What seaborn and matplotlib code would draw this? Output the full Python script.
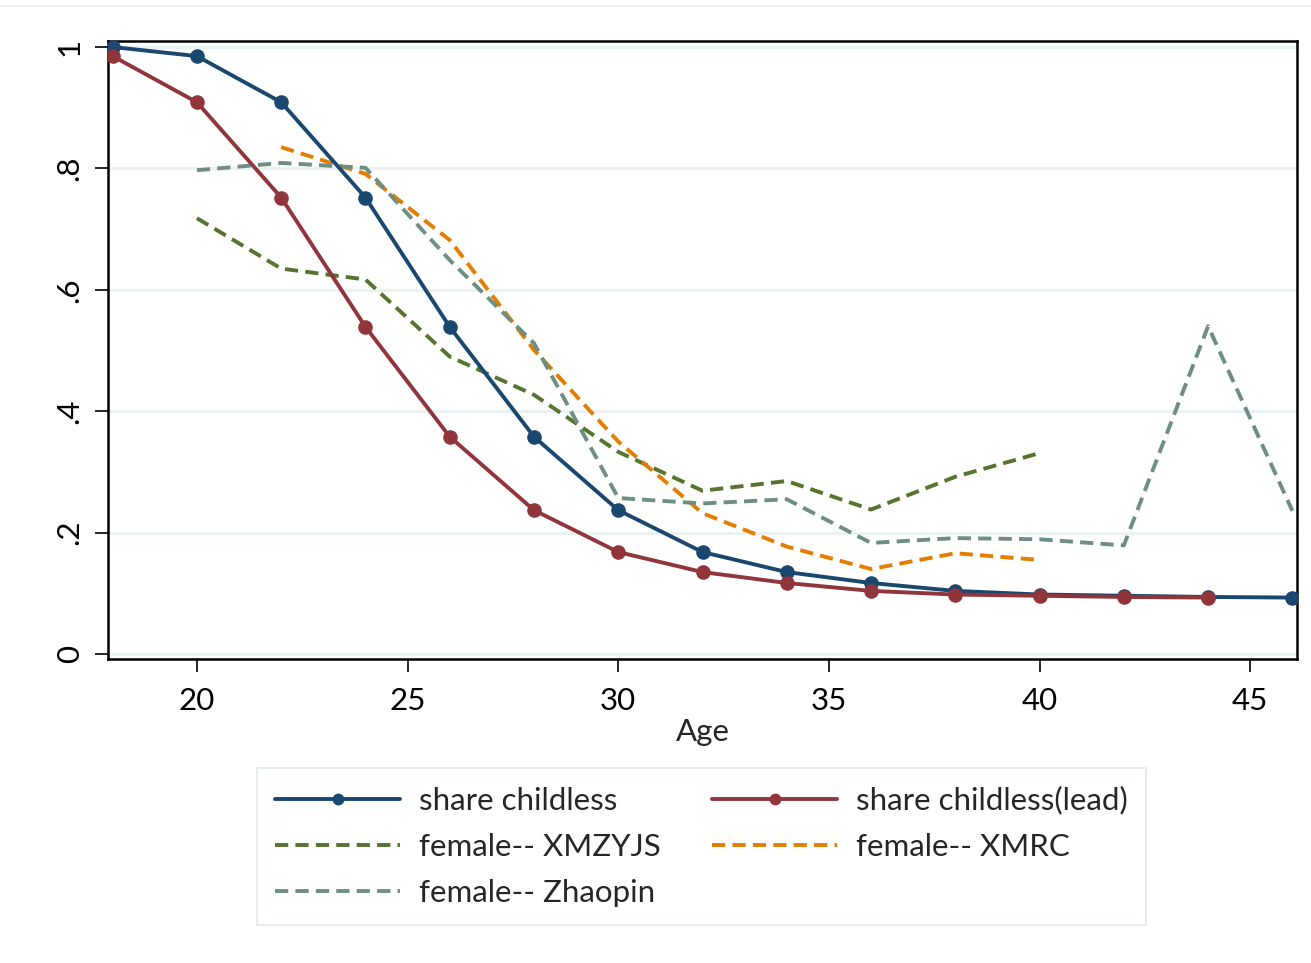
import matplotlib
matplotlib.use("Agg")
import matplotlib.pyplot as plt
import seaborn as sns
import pandas as pd
from matplotlib.lines import Line2D

# ---- data ----
ages_main = [18, 20, 22, 24, 26, 28, 30, 32, 34, 36, 38, 40, 42, 44, 46]
share_childless = [1.0, 0.985, 0.909, 0.752, 0.539, 0.358, 0.237, 0.168, 0.135,
                   0.117, 0.104, 0.098, 0.096, 0.094, 0.093]
ages_lead = [18, 20, 22, 24, 26, 28, 30, 32, 34, 36, 38, 40, 42, 44]
share_childless_lead = [0.985, 0.909, 0.752, 0.539, 0.358, 0.237, 0.168, 0.135,
                        0.117, 0.104, 0.098, 0.096, 0.094, 0.093]
ages_xmzyjs = [20, 22, 24, 26, 28, 30, 32, 34, 36, 38, 40]
female_xmzyjs = [0.718, 0.635, 0.617, 0.490, 0.427, 0.333, 0.269, 0.285, 0.238, 0.292, 0.331]
ages_xmrc = [22, 24, 26, 28, 30, 32, 34, 36, 38, 40]
female_xmrc = [0.835, 0.791, 0.682, 0.501, 0.350, 0.232, 0.177, 0.140, 0.166, 0.155]
ages_zhaopin = [20, 22, 24, 26, 28, 30, 32, 34, 36, 38, 40, 42, 44, 46]
female_zhaopin = [0.797, 0.809, 0.801, 0.649, 0.512, 0.257, 0.248, 0.255, 0.183,
                  0.191, 0.189, 0.179, 0.540, 0.236]

x_ticks = [20, 25, 30, 35, 40, 45]
y_ticks = [0, 0.2, 0.4, 0.6, 0.8, 1.0]
y_tick_labels = ["0", ".2", ".4", ".6", ".8", "1"]

labels = ["share childless", "share childless(lead)", "female-- XMZYJS",
          "female-- XMRC", "female-- Zhaopin"]
colors = ["#1a476f", "#90353b", "#55752f", "#e37e00", "#6e8e84"]

sns.set_theme(style="white")
plt.rcParams["font.family"] = ["Lato", "DejaVu Sans"]

W, H = 1311, 963
fig = plt.figure(figsize=(W / 100, H / 100), dpi=100)
ax = fig.add_axes([108 / W, 1 - 659 / H, (1297 - 108) / W, (659 - 41) / H])

FS = 22.5
LW = 2.8

series = [
    (ages_main, share_childless, True),
    (ages_lead, share_childless_lead, True),
    (ages_xmzyjs, female_xmzyjs, False),
    (ages_xmrc, female_xmrc, False),
    (ages_zhaopin, female_zhaopin, False),
]

handles = []
for (xs, ys, solid), lab, col in zip(series, labels, colors):
    df = pd.DataFrame({"Age": xs, "val": ys})
    n_before = len(ax.lines)
    if solid:
        sns.lineplot(data=df, x="Age", y="val", ax=ax, color=col,
                     marker="o", label=lab, errorbar=None, legend=False, zorder=3)
    else:
        sns.lineplot(data=df, x="Age", y="val", ax=ax, color=col,
                     label=lab, errorbar=None, legend=False, zorder=2)
    line = ax.lines[n_before]
    line.set_linewidth(LW)
    if solid:
        line.set_marker("o")
        line.set_markersize(10.5)
        line.set_markeredgewidth(0)
        line.set_markerfacecolor(col)
        line.set_linestyle("-")
    else:
        line.set_linestyle((0, (3.4, 1.85)))
    handles.append(line)

ax.set_xlim(17.89, 46.11)
ax.set_ylim(-0.0082, 1.0099)
ax.set_xticks(x_ticks)
ax.set_xticklabels([str(t) for t in x_ticks], fontsize=FS)
ax.set_yticks(y_ticks)
ax.set_yticklabels(y_tick_labels, fontsize=FS, rotation=90, va="center")
ax.set_xlabel("Age", fontsize=FS, labelpad=2)
ax.set_ylabel("")

ax.grid(axis="y", color="#eaf2f3", linewidth=2.2, zorder=0)
ax.grid(axis="x", visible=False)
ax.set_axisbelow(True)
for s in ax.spines.values():
    s.set_visible(True)
    s.set_color("black")
    s.set_linewidth(1.8)
ax.tick_params(axis="both", which="major", direction="out", length=9.5,
               width=1.2, color="black", labelcolor="black",
               left=True, bottom=True)
ax.tick_params(axis="x", pad=11)
ax.tick_params(axis="y", pad=8)

# legend: row-wise order in a 2-column layout
order = [0, 2, 4, 1, 3]
leg = fig.legend([handles[i] for i in order], [labels[i] for i in order],
                 ncol=2, loc="upper center", bbox_to_anchor=(701.5 / W, 1 - 768 / H),
                 bbox_transform=fig.transFigure, fontsize=FS, frameon=True,
                 fancybox=False, edgecolor="#e3eaec", framealpha=1,
                 handlelength=4.0, handletextpad=0.6, columnspacing=1.65,
                 labelspacing=0.58, borderpad=0.58, borderaxespad=0)
leg.get_frame().set_linewidth(1.2)
for lh in leg.legend_handles:
    lh.set_markersize(8.5)

# faint outer line near the top of the graph region
fig.add_artist(Line2D([0, 1], [1 - 6 / H, 1 - 6 / H], transform=fig.transFigure,
                      color="#eaf0f1", linewidth=1.2))

fig.savefig("out.png", dpi=100, facecolor="white")
